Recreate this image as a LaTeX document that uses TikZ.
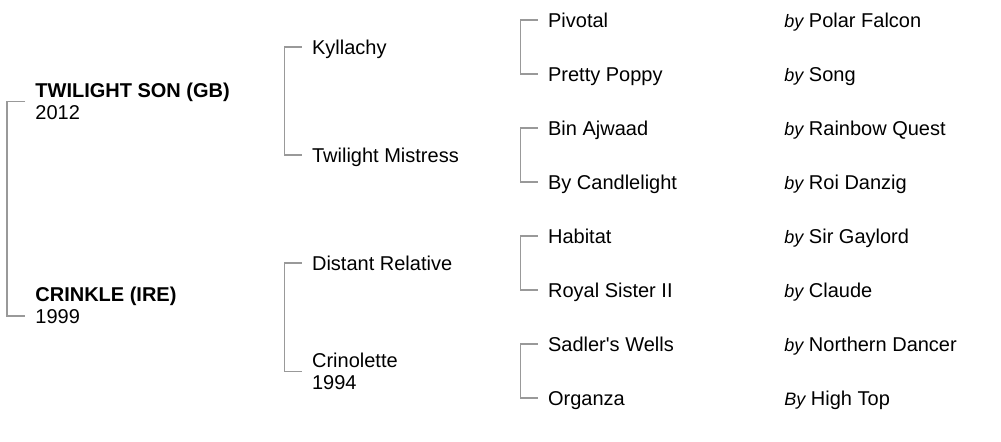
\documentclass[tikz,border=0pt]{standalone}
\usepackage{fontspec}
\setmainfont{Liberation Sans}

\tikzset{
  horse/.style={anchor=west, inner sep=0pt, text height=7.2pt, text depth=0pt},
  horsetwo/.style={anchor=north west, inner sep=0pt, align=left,
    font=\fontsize{10}{11}\selectfont},
  bracket/.style={draw=black!40, line width=0.6pt}
}

\begin{document}
\begin{tikzpicture}[x=0.5pt, y=-0.5pt, font=\fontsize{10}{12}\selectfont]
  \useasboundingbox (0,0) rectangle (1001,441);
  % horse and parents
  \node[horsetwo, name=son] at (35,82.5) {\textbf{TWILIGHT SON (GB)}\\2012};
  \node[horsetwo, name=crinkle] at (35,286.5) {\textbf{CRINKLE (IRE)}\\1999};
  \node[horse, name=kyllachy] at (311.7,47) {Kyllachy};
  \node[horse, name=mistress] at (311.7,155) {Twilight Mistress};
  \node[horse, name=distant] at (311.7,263) {Distant Relative};
  \node[horsetwo, name=crinolette] at (311.7,352.5) {Crinolette\\1994};
  % grandparents and their sires
  \foreach \i/\name/\by/\sire/\y in
    { 1/Pivotal/by/Polar Falcon/20, 2/Pretty Poppy/by/Song/74,
      3/Bin Ajwaad/by/Rainbow Quest/128, 4/By Candlelight/by/Roi Danzig/182,
      5/Habitat/by/Sir Gaylord/236, 6/Royal Sister II/by/Claude/290,
      7/Sadler\textquotesingle{}s Wells/by/Northern Dancer/344,
      8/Organza/By/High Top/398}
  {
    \node[horse, name=g\i] at (547.7,\y) {\name};
    \node[horse, name=s\i] at (784,\y) {{\fontsize{9}{11}\selectfont\itshape\by} \sire};
  }
  \draw[bracket] ([xshift=-5pt]son.west) -- ++(-9pt,0)
    |- ([xshift=-5pt,yshift=4pt]crinkle.south west);
  \draw[bracket] ([xshift=-5pt]kyllachy.west) -- ++(-8.5pt,0) |- ([xshift=-5pt]mistress.west);
  \draw[bracket] ([xshift=-5pt]distant.west) -- ++(-8.5pt,0) |- ([xshift=-5pt]crinolette.west);
  \foreach \a/\b in {1/2,3/4,5/6,7/8}
    \draw[bracket] ([xshift=-5pt]g\a.west) -- ++(-8.5pt,0) |- ([xshift=-5pt]g\b.west);
\end{tikzpicture}
\end{document}
